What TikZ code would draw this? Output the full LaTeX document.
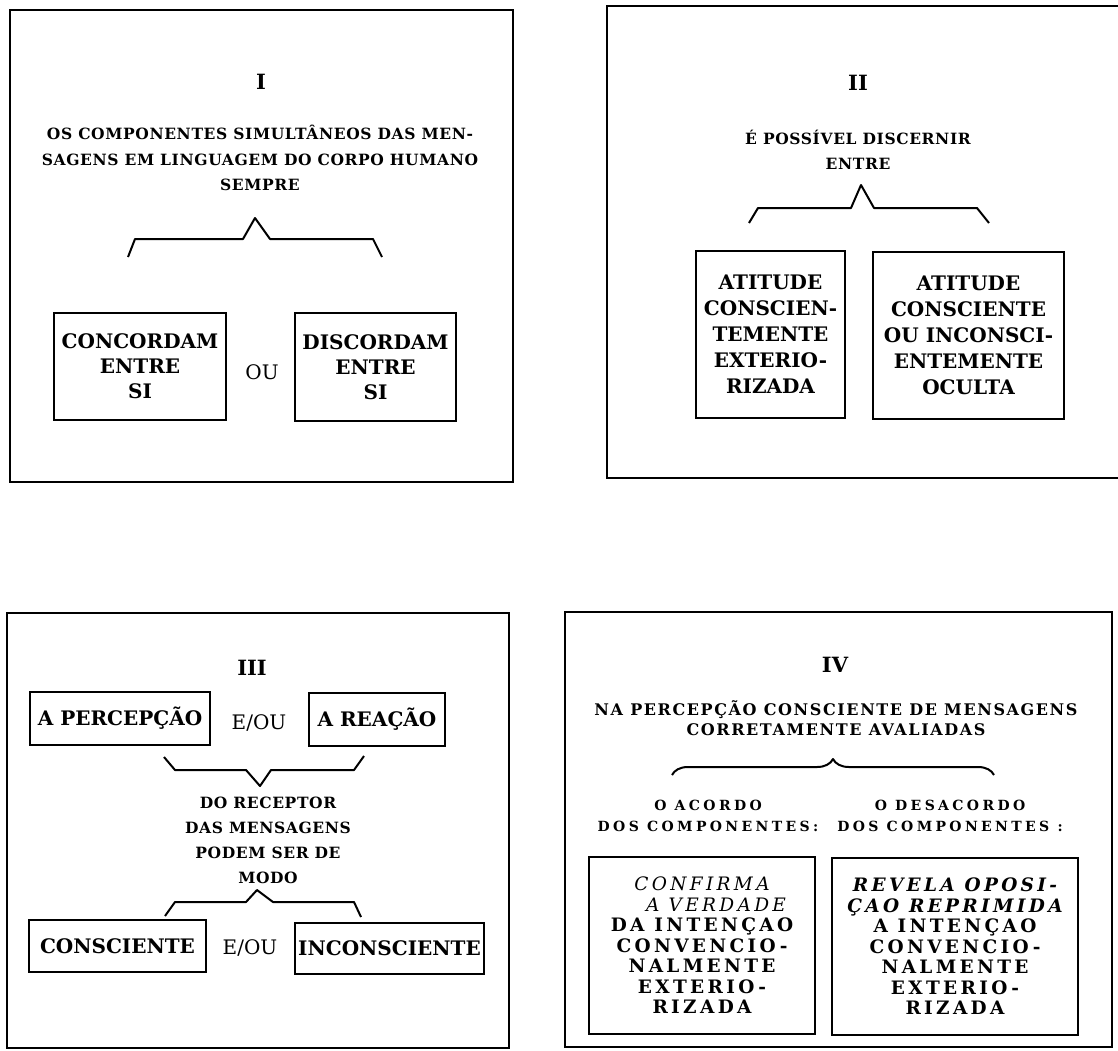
\documentclass[tikz,border=0pt]{standalone}
\usepackage{fontspec}
\setmainfont{DejaVu Serif}
\newfontfamily\spaced[LetterSpace=4]{DejaVu Serif}
\newfontfamily\headwide[LetterSpace=10]{DejaVu Serif}
\newfontfamily\wider[LetterSpace=18]{DejaVu Serif}
\newfontfamily\widest[LetterSpace=24]{DejaVu Serif}
\usetikzlibrary{decorations.pathreplacing}

\begin{document}
\begin{tikzpicture}[x=1pt,y=-1pt]
	\tikzstyle{panel}=[line width=2.6pt]
	\tikzstyle{box}=[draw,line width=2.4pt,inner sep=0pt,align=center,font=\bfseries\fontsize{20}{25}\selectfont]
	\tikzstyle{smallbox}=[draw,line width=2.4pt,inner sep=0pt,align=center,font=\wider\bfseries\fontsize{18.5}{20.5}\selectfont]
	\tikzstyle{numeral}=[font=\bfseries\fontsize{21}{25}\selectfont]
	\tikzstyle{head}=[align=center,font=\spaced\bfseries\fontsize{15.5}{25.5}\selectfont]
	\tikzstyle{conj}=[font=\fontsize{20}{25}\selectfont]
	\tikzstyle{brace}=[line width=2pt,line join=round]

	\useasboundingbox (0,0) rectangle (1118,1050);
	\fill [white] (0,0) rectangle (1118,1050);

	% the four panels
	\draw [panel] (10,10) rectangle (513,482);
	\draw [panel] (607,6) rectangle (1124,478);
	\draw [panel] (7,613) rectangle (509,1048);
	\draw [panel] (565,612) rectangle (1112,1047);

	% I
	\node [numeral] (num_I) at (261,82) {I};
	\node [head] (head_I) at (260,158) {OS COMPONENTES SIMULTÂNEOS DAS MEN-\\SAGENS EM LINGUAGEM DO CORPO HUMANO\\SEMPRE};
	\node [box,minimum width=172pt,minimum height=107pt] (concordam) at (140,366.5) {CONCORDAM\\ENTRE\\SI};
	\node [conj] (ou) at (262,372) {OU};
	\node [box,minimum width=161pt,minimum height=108pt] (discordam) at (375.5,367) {DISCORDAM\\ENTRE\\SI};
	\draw [brace] (128,257) -- (135,239) -- (243,239) -- (255,218) -- (270,239) -- (373,239) -- (382,257);

	% II
	\node [numeral] (num_II) at (858,83) {II};
	\node [head] (head_II) at (858,150) {É POSSÍVEL DISCERNIR\\ENTRE};
	\node [box,minimum width=149pt,minimum height=167pt,font=\bfseries\fontsize{20}{26}\selectfont] (exteriorizada) at (770.5,334.5) {ATITUDE\\CONSCIEN-\\TEMENTE\\EXTERIO-\\RIZADA};
	\node [box,minimum width=191pt,minimum height=167pt,font=\bfseries\fontsize{20}{26}\selectfont] (oculta) at (968.5,335.5) {ATITUDE\\CONSCIENTE\\OU INCONSCI-\\ENTEMENTE\\OCULTA};
	\draw [brace] (749,223) -- (758,208) -- (851,208) -- (861,185) -- (874,208) -- (977,208) -- (989,223);

	% III
	\node [numeral] (num_III) at (252,668) {III};
	\node [box,minimum width=180pt,minimum height=53pt] (percepcao) at (120,718.5) {A PERCEPÇÃO};
	\node [conj] (eou_top) at (259,723) {E/OU};
	\node [box,minimum width=136pt,minimum height=53pt] (reacao) at (377,719.5) {A REAÇÃO};
	\draw [brace] (164,757) -- (175,770) -- (246,770) -- (260,786) -- (271,770) -- (354,770) -- (364,756);
	\node [head,font=\spaced\bfseries\fontsize{15.5}{25}\selectfont] (receptor) at (268,840.5) {DO RECEPTOR\\DAS MENSAGENS\\PODEM SER DE\\MODO};
	\draw [brace] (165,916) -- (175,902) -- (246,902) -- (257,890) -- (273,902) -- (354,902) -- (361,917);
	\node [box,minimum width=177pt,minimum height=52pt] (consciente) at (117.5,946) {CONSCIENTE};
	\node [conj] (eou_bottom) at (250,948) {E/OU};
	\node [box,minimum width=189pt,minimum height=51pt] (inconsciente) at (389.5,948.5) {INCONSCIENTE};

	% IV
	\node [numeral] (num_IV) at (835,665) {IV};
	\node [head,font=\headwide\bfseries\fontsize{16}{20.5}\selectfont] (head_IV) at (836,718) {NA PERCEPÇÃO CONSCIENTE DE MENSAGENS\\CORRETAMENTE AVALIADAS};
	\draw [brace,decorate,decoration={brace,amplitude=16pt}] (672,775) -- (994,775);
	\node [head,font=\widest\bfseries\fontsize{14}{20.5}\selectfont] (acordo) at (708,816) {O ACORDO\\DOS COMPONENTES:};
	\node [head,font=\widest\bfseries\fontsize{14}{20.5}\selectfont] (desacordo) at (950,816) {O DESACORDO\\DOS COMPONENTES :};
	\node [smallbox,minimum width=226pt,minimum height=177pt] (confirma) at (702,945.5) {{\mdseries\itshape CONFIRMA}\\\hspace*{28pt}{\mdseries\itshape A VERDADE}\\DA INTENÇAO\\CONVENCIO-\\NALMENTE\\EXTERIO-\\RIZADA};
	\node [smallbox,minimum width=246pt,minimum height=177pt] (revela) at (955,946.5) {{\itshape REVELA OPOSI-}\\{\itshape ÇAO REPRIMIDA}\\A INTENÇAO\\CONVENCIO-\\NALMENTE\\EXTERIO-\\RIZADA};
\end{tikzpicture}
\end{document}
